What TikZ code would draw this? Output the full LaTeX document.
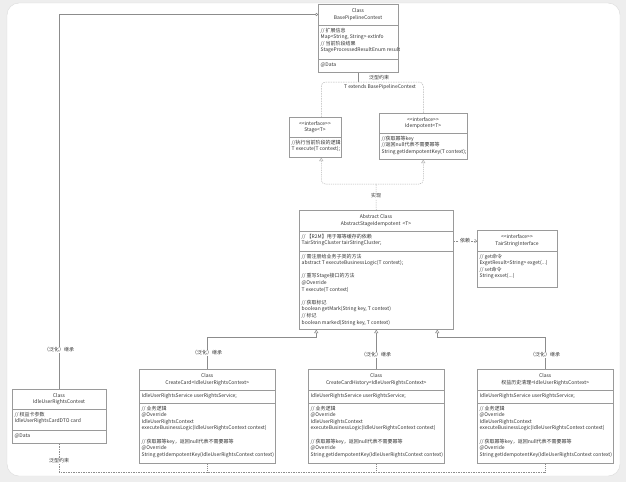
\documentclass[tikz,border=0pt]{standalone}
\usepackage{fontspec}
\setmainfont{Noto Sans CJK SC}
\usetikzlibrary{arrows.meta,calc}
\definecolor{bg}{HTML}{EEEEEE}
\definecolor{cardedge}{HTML}{DADADA}
\definecolor{edge}{HTML}{9A9A9A}
\definecolor{txt}{HTML}{333333}
\definecolor{conn}{HTML}{8C8C8C}
\definecolor{lite}{HTML}{B5B5B5}
\newcommand{\llsym}{<\kern0pt<}
\newcommand{\ggsym}{>\kern0pt>}
\begin{document}
\begin{tikzpicture}[x=1pt,y=-1pt,
  umlbox/.style={draw=edge, fill=white, line width=0.5pt, anchor=north west, inner sep=0pt},
  hd/.style={font=\fontsize{5}{6.6}\selectfont, text=txt, align=center, inner sep=0pt},
  bd/.style={font=\fontsize{5}{6.6}\selectfont, text=txt, align=left, anchor=north west, inner xsep=2.5pt, inner ysep=2.6pt},
  bdl/.style={font=\fontsize{5}{6.6}\selectfont, text=txt, anchor=west, inner xsep=2.5pt, inner ysep=0pt},
  dv/.style={draw=edge, line width=0.5pt},
  gen/.style={draw=conn, line width=0.5pt, -{Triangle[open, length=3.5pt, width=4pt]}},
  impl/.style={draw=lite, line width=0.5pt, dash pattern=on 1.2pt off 1pt},
  dsh/.style={draw=lite, line width=0.5pt, dash pattern=on 1.5pt off 1pt},
  lbl/.style={font=\fontsize{5}{6}\selectfont, text=txt, fill=white, inner sep=1pt},
]
\useasboundingbox (0,0) rectangle (626,482);
\fill[bg] (0,0) rectangle (626,482);
\draw[cardedge, fill=white, rounded corners=12pt] (7,3) rectangle (620,476);

% ---------- boxes (placed first so anchors exist) ----------
\path
  (318,4)   node[umlbox, minimum width=80,  minimum height=68] (base) {}
  (289,117) node[umlbox, minimum width=52,  minimum height=40] (stage) {}
  (379,113) node[umlbox, minimum width=88,  minimum height=46] (idem) {}
  (299,210) node[umlbox, minimum width=154, minimum height=119] (abs) {}
  (477,230) node[umlbox, minimum width=80,  minimum height=57] (tair) {}
  (12,389)  node[umlbox, minimum width=94,  minimum height=54] (ctx) {}
  (139,369) node[umlbox, minimum width=136, minimum height=94] (cc) {}
  (308,369) node[umlbox, minimum width=136, minimum height=94] (cch) {}
  (477,369) node[umlbox, minimum width=136, minimum height=94] (hist) {};

% ---------- connectors ----------
% IdleUserRightsContext generalises BasePipelineContext
\draw[draw=conn, line width=0.5pt, -{Circle[open, length=3pt]}] (ctx.north) |- (base.west |- 0,14.5);
% generic constraint T extends BasePipelineContext
\coordinate (ttop) at (358,82);
\draw[draw=conn, line width=0.5pt] (base.south -| 358,0) -- (ttop);
\draw[dsh, rounded corners=4pt] ([xshift=6pt]stage.north) |- (ttop) -| (idem.north);
% implementation
\coordinate (tbot) at (376,184);
\draw[impl] (abs.north) -- (tbot);
\draw[impl, rounded corners=4pt, -{Triangle[open, length=3.5pt, width=4pt]}] (tbot) -| ([xshift=6pt]stage.south);
\draw[impl, rounded corners=4pt, -{Triangle[open, length=3.5pt, width=4pt]}] (tbot) -| (idem.south);
% dependency
\draw[draw=conn, line width=0.5pt, dash pattern=on 1.5pt off 1pt, -{Straight Barb[length=2pt, width=3.5pt]}] (abs.east |- 0,241) -- (tair.west |- 0,241);
% generalisations to the abstract class
\draw[gen] (cc.north) |- ([xshift=-60pt]abs.south |- 0,337) -- ([xshift=-60pt]abs.south);
\draw[gen] (cch.north) -- (abs.south);
\draw[gen] (hist.north) |- ([xshift=61pt]abs.south |- 0,337) -- ([xshift=61pt]abs.south);
% generic constraint at the bottom
\draw[draw=conn, line width=0.5pt, dash pattern=on 1.5pt off 1pt] (ctx.south) |- (hist.south |- 0,472);
\draw[draw=conn, line width=0.5pt, dash pattern=on 0.6pt off 1.4pt] (cc.south) -- (cc.south |- 0,472);
\draw[draw=conn, line width=0.5pt, dash pattern=on 0.6pt off 1.4pt] (cch.south) -- (cch.south |- 0,472);
\draw[draw=conn, line width=0.5pt, dash pattern=on 0.6pt off 1.4pt] (hist.south) -- (hist.south |- 0,472);

% ---------- redraw boxes on top of connector ends ----------
\foreach \n in {base,stage,idem,abs,tair,ctx,cc,cch,hist}{
  \draw[draw=edge, fill=white, line width=0.5pt] (\n.north west) rectangle (\n.south east);
}

% ---------- BasePipelineContext ----------
\draw[dv] (base.west |- 0,25) -- (base.east |- 0,25);
\draw[dv] (base.west |- 0,59) -- (base.east |- 0,59);
\node[hd] (base-h) at (358,14.5) {Class\\BasePipelineContext};
\node[bd] (base-b) at (base.west |- 0,25) {// 扩展信息\\Map<String, String> extInfo\\// 当前阶段结果\\StageProcessedResultEnum result};
\node[bdl] (base-a) at (base.west |- 0,65.5) {@Data};

% ---------- Stage<T> ----------
\draw[dv] (stage.west |- 0,137) -- (stage.east |- 0,137);
\node[hd] (stage-h) at (315,127) {\llsym interface\ggsym\\Stage<T>};
\node[bd] (stage-b) at (stage.west |- 0,137) {//执行当前阶段的逻辑\\T execute(T context);};

% ---------- Idempotent<T> ----------
\draw[dv] (idem.west |- 0,133) -- (idem.east |- 0,133);
\node[hd] (idem-h) at (423,123) {\llsym interface\ggsym\\Idempotent<T>};
\node[bd] (idem-b) at (idem.west |- 0,133) {//获取幂等key\\//返回null代表不需要幂等\\String getIdempotentKey(T context);};

% ---------- AbstractStageIdempotent ----------
\draw[dv] (abs.west |- 0,231) -- (abs.east |- 0,231);
\draw[dv] (abs.west |- 0,251) -- (abs.east |- 0,251);
\node[hd] (abs-h) at (376,220.5) {Abstract Class\\AbstractStageIdempotent~~<T>};
\node[bd] (abs-b1) at (abs.west |- 0,231) {// 【R2M】用于幂等缓存的依赖\\TairStringCluster tairStringCluster;};
\node[bd] (abs-b2) at (abs.west |- 0,251) {// 需注册给业务子类的方法\\abstract T executeBusinessLogic(T context);\\\mbox{}\\// 重写Stage接口的方法\\@Override\\T execute(T context)\\\mbox{}\\// 获取标记\\boolean getMark(String key, T context)\\// 标记\\boolean marked(String key, T context)};

% ---------- TairStringInterface ----------
\draw[dv] (tair.west |- 0,251) -- (tair.east |- 0,251);
\node[hd] (tair-h) at (517,240.5) {\llsym interface\ggsym\\TairStringInterface};
\node[bd] (tair-b) at (tair.west |- 0,251) {// get命令\\ExgetResult<String> exget(...)\\// set命令\\String exset(...)};

% ---------- IdleUserRightsContext ----------
\draw[dv] (ctx.west |- 0,409) -- (ctx.east |- 0,409);
\draw[dv] (ctx.west |- 0,430) -- (ctx.east |- 0,430);
\node[hd] (ctx-h) at (59,399) {Class\\IdleUserRightsContext};
\node[bd] (ctx-b) at (ctx.west |- 0,409) {// 权益卡参数\\IdleUserRightsCardDTO card};
\node[bdl] (ctx-a) at (ctx.west |- 0,436.5) {@Data};

% ---------- three concrete classes ----------
\foreach \n/\t in {cc/CreateCard, cch/CreateCardHistory, hist/权益历史清理}{
  \draw[dv] (\n.west |- 0,390) -- (\n.east |- 0,390);
  \draw[dv] (\n.west |- 0,403) -- (\n.east |- 0,403);
  \node[hd] (\n-h) at ($(\n.north)+(0,10.5)$) {Class\\\t<IdleUserRightsContext>};
  \node[bdl] (\n-f) at (\n.west |- 0,396.5) {IdleUserRightsService userRightsService;};
  \node[bd] (\n-b) at (\n.west |- 0,403) {// 业务逻辑\\@Override\\IdleUserRightsContext\\executeBusinessLogic(IdleUserRightsContext context)\\\mbox{}\\// 获取幂等key，返回null代表不需要幂等\\@Override\\String getIdempotentKey(IdleUserRightsContext context)};
}

% ---------- connector labels ----------
\node[lbl] (l-gen0) at (59,350) {（泛化）继承};
\node[lbl, fill=none] (l-tc1) at (379,77.5) {泛型约束};
\node[lbl, fill=none] (l-tc2) at (380,87) {T extends BasePipelineContext};
\node[lbl] (l-impl) at (376,196) {实现};
\node[lbl] (l-dep) at (465,241) {依赖};
\node[lbl] (l-gen1) at (207,353) {（泛化）继承};
\node[lbl] (l-gen2) at (376,355) {（泛化）继承};
\node[lbl] (l-gen3) at (545,355) {（泛化）继承};
\node[lbl] (l-tc3) at (59,461) {泛型约束};
\end{tikzpicture}
\end{document}
